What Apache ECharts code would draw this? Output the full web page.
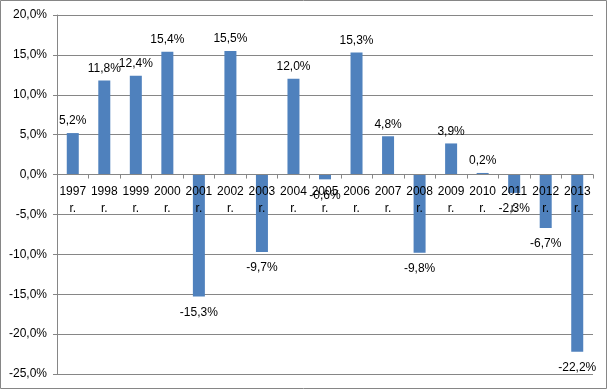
<!DOCTYPE html>
<html><head><meta charset="utf-8">
<script src="https://cdn.jsdelivr.net/npm/echarts@6/dist/echarts.min.js"></script>
<style>html,body{margin:0;padding:0;background:#fff}#c{width:609px;height:391px}</style>
</head><body><div id="c"></div>
<script>
const categories = ['1997\nr.','1998\nr.','1999\nr.','2000\nr.','2001\nr.','2002\nr.','2003\nr.','2004\nr.','2005\nr.','2006\nr.','2007\nr.','2008\nr.','2009\nr.','2010\nr.','2011\nr.','2012\nr.','2013\nr.'];
const values = [5.2, 11.8, 12.4, 15.4, -15.3, 15.5, -9.7, 12.0, -0.6, 15.3, 4.8, -9.8, 3.9, 0.2, -2.3, -6.7, -22.2];
const yMin = -25, yMax = 20, yStep = 5;

const fmt = v => v.toFixed(1).replace('.', ',') + '%';
const font = 'Liberation Sans';
const G = {left: 57, right: 16, top: 15, bottom: 17};
const plotH = 391 - G.top - G.bottom;
const zeroH = plotH * (yMax - 0) / (yMax - yMin);
const chart = echarts.init(document.getElementById('c'), null, {renderer: 'canvas'});
chart.setOption({
  animation: false,
  graphic: [{type: 'rect', shape: {x: 0.5, y: 0.5, width: 606, height: 388}, style: {fill: 'none', stroke: '#868686', lineWidth: 1}, silent: true}],
  grid: [
    {left: G.left, right: G.right, top: G.top, bottom: G.bottom, containLabel: false, outerBoundsMode: 'none'},
    {left: G.left, right: G.right, top: G.top, height: zeroH, containLabel: false, outerBoundsMode: 'none'}
  ],
  xAxis: [{
    type: 'category', data: categories, gridIndex: 0, show: false
  }, {
    type: 'category', data: categories, gridIndex: 1, z: 10,
    axisLine: {onZero: false, lineStyle: {color: '#868686'}},
    axisTick: {show: true, length: 4, lineStyle: {color: '#868686'}},
    axisLabel: {interval: 0, color: '#000', fontFamily: font, fontSize: 12, lineHeight: 17, margin: 9}
  }],
  yAxis: [{
    type: 'value', min: yMin, max: yMax, interval: yStep, gridIndex: 0,
    axisLine: {show: true, lineStyle: {color: '#868686'}},
    axisTick: {show: true, length: 4, lineStyle: {color: '#868686'}},
    splitLine: {lineStyle: {color: '#868686'}},
    axisLabel: {formatter: v => fmt(v), color: '#000', fontFamily: font, fontSize: 12, margin: 10}
  }, {
    type: 'value', gridIndex: 1, show: false, min: 0, max: 1
  }],
  series: [{
    type: 'bar', barWidth: 12, xAxisIndex: 0, yAxisIndex: 0,
    itemStyle: {color: '#4F81BD'},
    data: values.map(v => ({value: v, label: v < 0 ? {position: 'bottom', distance: 10} : {position: 'top', distance: 6}})),
    label: {show: true, formatter: p => fmt(p.value), color: '#000', fontFamily: font, fontSize: 12}
  }]
});
</script></body></html>
